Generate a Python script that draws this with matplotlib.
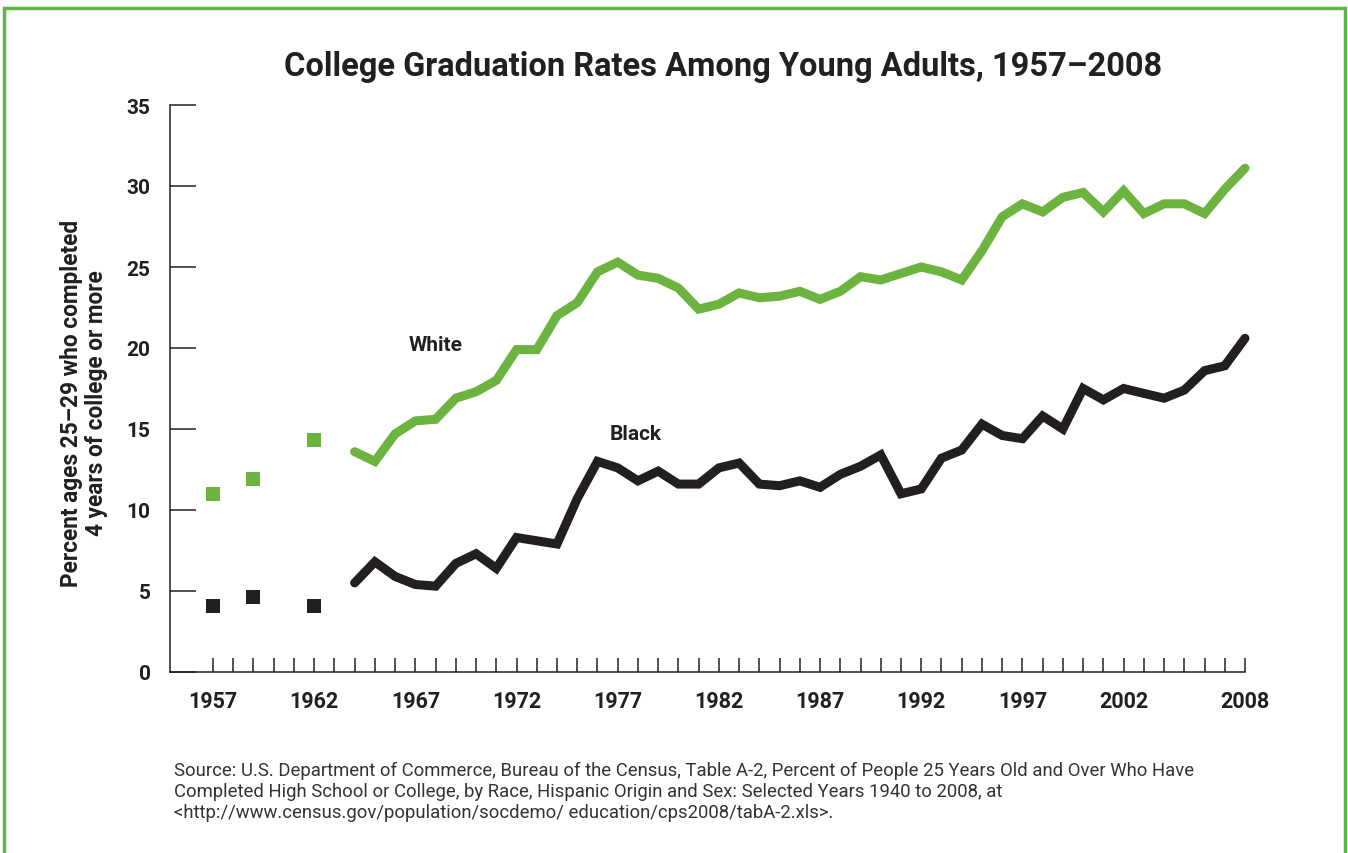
import matplotlib
matplotlib.use("Agg")
import matplotlib.pyplot as plt
from matplotlib.patches import Rectangle

plt.rcParams['font.family'] = ['Roboto', 'DejaVu Sans']

# early years shown as separate squares
sq_years = [1957, 1959, 1962]
sq_white = [11.0, 11.9, 14.3]
sq_black = [4.1, 4.6, 4.1]

years = list(range(1964, 2009))
white = [13.6, 13.0, 14.7, 15.5, 15.6, 16.9, 17.3, 18.0, 19.9, 19.9,
         22.0, 22.8, 24.7, 25.3, 24.5, 24.3, 23.7, 22.4, 22.7, 23.4,
         23.1, 23.2, 23.5, 23.0, 23.5, 24.4, 24.2, 24.6, 25.0, 24.7,
         24.2, 26.0, 28.1, 28.9, 28.4, 29.3, 29.6, 28.4, 29.7, 28.3,
         28.9, 28.9, 28.3, 29.8, 31.1]
black = [5.5, 6.8, 5.9, 5.4, 5.3, 6.7, 7.3, 6.4, 8.3, 8.1,
         7.9, 10.7, 13.0, 12.6, 11.8, 12.4, 11.6, 11.6, 12.6, 12.9,
         11.6, 11.5, 11.8, 11.4, 12.2, 12.7, 13.4, 11.0, 11.3, 13.2,
         13.7, 15.3, 14.6, 14.4, 15.8, 15.0, 17.5, 16.8, 17.5, 17.2,
         16.9, 17.4, 18.6, 18.9, 20.6]

tick_years = list(range(1957, 2009))
label_years = [1957, 1962, 1967, 1972, 1977, 1982, 1987, 1992, 1997, 2002, 2008]

green = '#6cb33f'
dark = '#231f20'

fig = plt.figure(figsize=(13.48, 8.54), dpi=100)
ax = fig.add_axes([170/1348, 1-673/854, (1245-170)/1348, (673-106)/854])

ax.plot(years, white, color=green, lw=6.5, solid_capstyle='round',
        solid_joinstyle='miter', clip_on=False)
ax.plot(years, black, color=dark, lw=6.5, solid_capstyle='round',
        solid_joinstyle='miter', clip_on=False)
ax.plot(sq_years, sq_white, 's', color=green, ms=10, mew=0, clip_on=False)
ax.plot(sq_years, sq_black, 's', color=dark, ms=10, mew=0, clip_on=False)

ax.set_xlim(1957 - 43/20.24, 2008)
ax.set_ylim(0, 35)

ax.spines['top'].set_visible(False)
ax.spines['right'].set_visible(False)
for s in ['left', 'bottom']:
    ax.spines[s].set_color(dark)
    ax.spines[s].set_linewidth(1.1)

ax.set_yticks(range(0, 36, 5))
ax.set_xticks(tick_years)
ax.set_xticklabels([str(y) if y in label_years else '' for y in tick_years])
ax.tick_params(axis='y', direction='in', length=19, width=1.1, color=dark, pad=14,
               labelsize=15, labelcolor=dark)
ax.tick_params(axis='x', direction='in', length=10, width=1.1, color=dark, pad=13,
               labelsize=15.5, labelcolor=dark)
for lab in ax.get_xticklabels() + ax.get_yticklabels():
    lab.set_fontweight('bold')

fig.text(84/1348, 1-403/854, 'Percent ages 25\u201329 who completed\n4 years of college or more',
         rotation=90, ha='center', va='center', fontsize=16.3, fontweight='bold',
         color=dark, linespacing=1.1)

fig.text(723/1348, 1-67/854, 'College Graduation Rates Among Young Adults, 1957\u20132008',
         ha='center', va='center', fontsize=23.5, fontweight='bold', color=dark)

ax.text(1968.0, 20.2, 'White', ha='center', va='center', fontsize=15,
        fontweight='bold', color=dark)
ax.text(1977.9, 14.7, 'Black', ha='center', va='center', fontsize=15,
        fontweight='bold', color=dark)

source = ('Source: U.S. Department of Commerce, Bureau of the Census, Table A-2, Percent of People 25 Years Old and Over Who Have\n'
          'Completed High School or College, by Race, Hispanic Origin and Sex: Selected Years 1940 to 2008, at\n'
          '<http://www.census.gov/population/socdemo/ education/cps2008/tabA-2.xls>.')
fig.text(174/1348, 1-762/854, source, ha='left', va='top', fontsize=13.3,
         color='#333333', linespacing=1.22)

# green frame (open at the bottom edge of the picture)
fig.patches.append(Rectangle((4/1348, -0.05), (1345-4)/1348, 1.05 - 9/854,
                             transform=fig.transFigure, fill=False,
                             edgecolor='#5cb845', lw=2.5))

fig.savefig('out.png', dpi=100)
